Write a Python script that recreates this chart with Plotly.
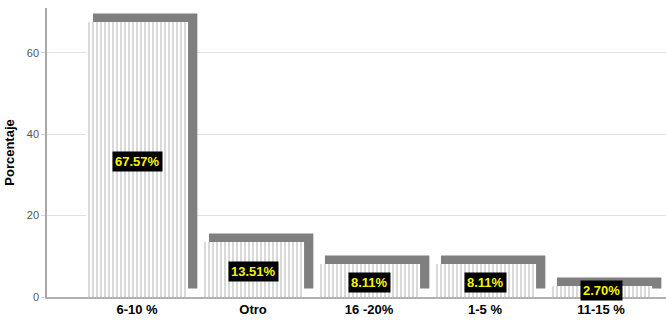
import plotly.graph_objects as go

# Frequency distribution (percent) by category
categories = ["6-10 %", "Otro", "16 -20%", "1-5 %", "11-15 %"]
percentages = [67.57, 13.51, 8.11, 8.11, 2.70]
value_labels = ["67.57%", "13.51%", "8.11%", "8.11%", "2.70%"]
y_ticks = [0, 20, 40, 60]

FONT = "Liberation Sans, Arial, sans-serif"
BAR_WIDTH = 0.88
SHADOW_DX = 0.06      # horizontal shift of the drop shadow (category units)
SHADOW_DY = 2.1       # vertical lift of the drop shadow (percent units)

fig = go.Figure()

# Drop shadow behind each bar (3-D look)
fig.add_trace(go.Bar(
    x=categories,
    y=percentages,
    base=[SHADOW_DY] * len(percentages),
    width=BAR_WIDTH + 0.02,
    offset=-BAR_WIDTH / 2 + SHADOW_DX,
    marker=dict(color="#7f7f7f", line=dict(width=0)),
    hoverinfo="skip",
    showlegend=False,
))

# Bar bodies with a vertical hatch fill
fig.add_trace(go.Bar(
    x=categories,
    y=percentages,
    width=BAR_WIDTH,
    offset=-BAR_WIDTH / 2,
    marker=dict(
        color="white",
        line=dict(width=0),
        pattern=dict(shape="|", size=4, solidity=0.25,
                     fgcolor="#b4b4b4", bgcolor="white", fillmode="replace"),
    ),
    showlegend=False,
))

# Value labels in black boxes at mid-height of each bar
for cat, val, txt in zip(categories, percentages, value_labels):
    fig.add_annotation(
        x=cat, y=max(val / 2, 2.1), text=txt, showarrow=False,
        yshift=-2,
        font=dict(family=FONT, size=13, color="#f5f500", weight="bold"),
        bgcolor="black", borderpad=2,
    )

fig.update_layout(
    width=666, height=320,
    margin=dict(l=47, r=0, t=8, b=23),
    paper_bgcolor="white", plot_bgcolor="white",
    barmode="overlay",
    font=dict(family=FONT, color="black"),
)

fig.update_xaxes(
    type="category",
    categoryorder="array", categoryarray=categories,
    range=[-0.776, 4.56],
    showgrid=False,
    showline=True, linecolor="#b0b0b0", linewidth=1.5,
    ticks="", tickfont=dict(family=FONT, size=13, color="black", weight="bold"),
)

fig.update_yaxes(
    range=[0, 71],
    tickvals=y_ticks,
    ticktext=[str(t) for t in y_ticks],
    showgrid=True, gridcolor="#e2e2e2", gridwidth=1,
    zeroline=False,
    showline=True, linecolor="#a8a8a8", linewidth=1.5,
    ticks="outside", ticklen=4, tickcolor="#d8d8d8",
    tickfont=dict(family=FONT, size=11, color="#555555"),
    title=dict(text="Porcentaje", standoff=9,
               font=dict(family=FONT, size=13, color="black", weight="bold")),
)

fig.write_html("out.html")
